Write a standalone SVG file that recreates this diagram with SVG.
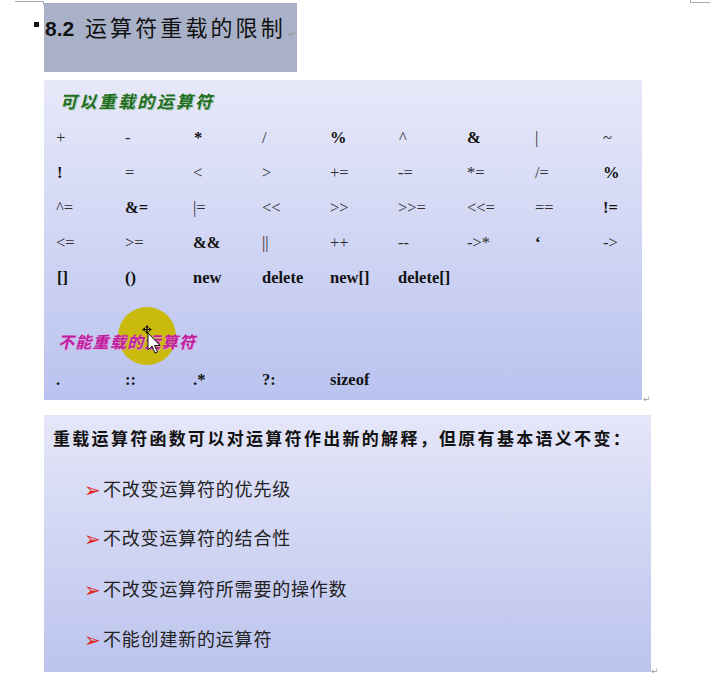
<svg xmlns="http://www.w3.org/2000/svg" width="710" height="676" viewBox="0 0 710 676">
<defs>
<linearGradient id="g1" x1="0" y1="0" x2="0" y2="1">
<stop offset="0" stop-color="#e7e8f9"/>
<stop offset="1" stop-color="#bac3ef"/>
</linearGradient>
<linearGradient id="g2" x1="0" y1="0" x2="0" y2="1">
<stop offset="0" stop-color="#e5e6f8"/>
<stop offset="1" stop-color="#bcc4ee"/>
</linearGradient>
<style>
.op{font-family:"Liberation Serif",serif;font-size:16.5px;fill:#2e2e2e}
.b{font-weight:bold;fill:#111}
.cjk{font-family:"Noto Sans CJK SC",sans-serif}
.pm{font-family:"DejaVu Sans",sans-serif;font-size:9px;fill:#999}
.item{font-family:"Noto Sans CJK SC",sans-serif;font-size:18px;letter-spacing:0.8px;fill:#222}
.arr{font-family:"DejaVu Sans",sans-serif;font-size:20px;fill:#e0241b}
</style>
</defs>
<rect width="710" height="676" fill="#ffffff"/>
<g id="marks" stroke="#aaaaaa" stroke-width="1" fill="none">
<path d="M15 1.5H43.5V5"/>
<path d="M690.5 0V2.5H710"/>
</g>
<g id="title">
<rect x="44" y="3" width="253" height="69" fill="#a9b1c9"/>
<rect x="34" y="22" width="5" height="5" fill="#111"/>
<text x="45" y="36" font-family="Liberation Sans,sans-serif" font-size="21" font-weight="bold" fill="#111">8.2</text>
<text x="85" y="36" class="cjk" font-size="22" letter-spacing="3.1" fill="#111">运算符重载的限制</text>
<text x="288" y="37" class="pm">↵</text>
</g>
<g id="box1">
<rect x="44" y="80" width="598" height="320" fill="url(#g1)"/>
<text x="61" y="109" class="cjk" font-size="17" font-weight="bold" font-style="italic" letter-spacing="2.3" fill="#8fbf8f" opacity="0.6">可以重载的运算符</text>
<text x="60" y="108" class="cjk" font-size="17" font-weight="bold" font-style="italic" letter-spacing="2.3" fill="#1f6e1f">可以重载的运算符</text>
<g class="op">
<text x="56" y="143">+</text><text x="125" y="143">-</text><text x="194" y="143" class="b">*</text><text x="262" y="143">/</text><text x="330" y="143" class="b">%</text><text x="399" y="143">^</text><text x="467" y="143" class="b">&amp;</text><text x="535" y="143">|</text><text x="603" y="143">~</text>
<text x="57" y="178" class="b">!</text><text x="125" y="178">=</text><text x="193" y="178">&lt;</text><text x="262" y="178">&gt;</text><text x="330" y="178">+=</text><text x="398" y="178">-=</text><text x="467" y="178">*=</text><text x="535" y="178">/=</text><text x="603" y="178" class="b">%</text>
<text x="56" y="213">^=</text><text x="125" y="213" class="b">&amp;=</text><text x="193" y="213">|=</text><text x="262" y="213">&lt;&lt;</text><text x="330" y="213">&gt;&gt;</text><text x="398" y="213">&gt;&gt;=</text><text x="467" y="213">&lt;&lt;=</text><text x="535" y="213">==</text><text x="603" y="213" class="b">!=</text>
<text x="56" y="248">&lt;=</text><text x="125" y="248">&gt;=</text><text x="193" y="248" class="b">&amp;&amp;</text><text x="262" y="248">||</text><text x="330" y="248">++</text><text x="398" y="248">--</text><text x="467" y="248">-&gt;*</text><text x="535" y="248" class="b">‘</text><text x="603" y="248">-&gt;</text>
<text x="57" y="283" class="b">[]</text><text x="125" y="283" class="b">()</text><text x="193" y="283" class="b">new</text><text x="262" y="283" class="b">delete</text><text x="330" y="283" class="b">new[]</text><text x="398" y="283" class="b">delete[]</text>
</g>
<circle cx="147" cy="336" r="29" fill="#cbba0e"/>
<text x="59" y="349" class="cjk" font-size="16" font-weight="bold" font-style="italic" letter-spacing="1.3" fill="#e0a0e0" opacity="0.7">不能重载的运算符</text>
<text x="58" y="348" class="cjk" font-size="16" font-weight="bold" font-style="italic" letter-spacing="1.3" fill="#c21c9e">不能重载的运算符</text>
<g class="op">
<text x="56" y="385" class="b">.</text><text x="125" y="385" class="b">::</text><text x="193" y="385" class="b">.*</text><text x="262" y="385" class="b">?:</text><text x="330" y="385" class="b">sizeof</text>
</g>
<text x="643" y="402" class="pm">↵</text>
</g>
<g id="cursor">
<path d="M147 326V333M143.5 329.5H150.5" stroke="#111" stroke-width="1.2"/>
<path d="M145 327.5L147 325L149 327.5ZM145 331.5L147 334L149 331.5ZM145 327.5L142 329.5L145 331.5ZM149 327.5L152 329.5L149 331.5Z" fill="#111"/>
<path d="M148 333L148 350L152 346L155 353L157.5 352L154.5 345.5L160 345.5Z" fill="#ffffff" stroke="#111" stroke-width="1"/>
</g>
<g id="box2">
<rect x="44" y="415" width="607" height="257" fill="url(#g2)"/>
<text x="53" y="445" class="cjk" font-size="17" font-weight="bold" letter-spacing="2.3" fill="#111">重载运算符函数可以对运算符作出新的解释，但原有基本语义不变：</text>
<text x="84" y="497" class="arr">➢</text><text x="103" y="496" class="item">不改变运算符的优先级</text>
<text x="84" y="546" class="arr">➢</text><text x="103" y="545" class="item">不改变运算符的结合性</text>
<text x="84" y="597" class="arr">➢</text><text x="103" y="596" class="item">不改变运算符所需要的操作数</text>
<text x="84" y="647" class="arr">➢</text><text x="103" y="646" class="item">不能创建新的运算符</text>
<text x="651" y="674" class="pm">↵</text>
</g>
</svg>
